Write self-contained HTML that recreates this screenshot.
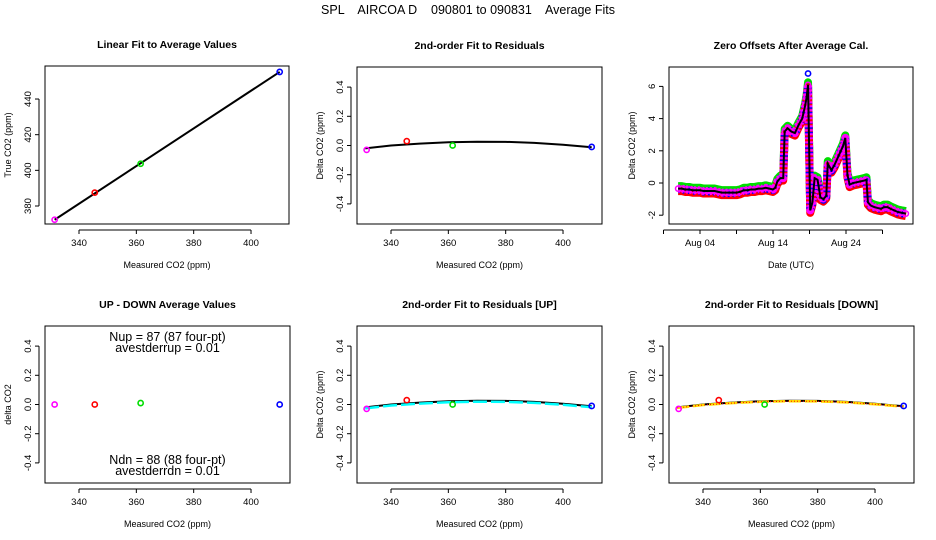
<!DOCTYPE html>
<html><head><meta charset="utf-8"><style>
body{margin:0;background:#fff}
svg{display:block;font-family:"Liberation Sans",sans-serif}
</style></head><body>
<svg id="c" width="936" height="540" viewBox="0 0 936 540" xmlns="http://www.w3.org/2000/svg">
<rect width="936" height="540" fill="#fff"/>
<text x="468" y="14" font-size="12.5" text-anchor="middle" xml:space="preserve">SPL    AIRCOA D    090801 to 090831    Average Fits</text>
</svg>
<script>
// ---- data ----
const calX = [331.5, 345.5, 361.5, 410];
const calTrue = [372.3, 387.5, 403.7, 455.2];
const calColors = ['#ff00ff', '#ff0000', '#00dd00', '#0000ff'];
const resid = [-0.03, 0.03, 0.0, -0.01];
const residUp = [-0.03, 0.03, 0.0, -0.01];
const residDn = [-0.03, 0.03, 0.0, -0.01];
const upDown = [0.0, 0.0, 0.01, 0.0];
const fitX = [331, 340, 350, 360, 370, 380, 390, 400, 410];
const fitY = [-0.02, 0.0, 0.013, 0.022, 0.026, 0.025, 0.018, 0.005, -0.012];
const linFitX = [331.5, 410];
const linFitY = [372.3, 455.2];
const zoDay = [1,1.5,2,2.5,3,3.5,4,4.5,5,5.5,6,6.5,7,7.5,8,8.5,9,9.5,10,10.5,11,11.5,12,12.5,13,13.5,14,14.3,14.6,15,15.4,15.6,16,16.5,17,17.5,18,18.2,18.4,18.6,18.8,19.1,19.4,19.7,20.1,20.5,20.9,21.3,21.5,22,22.4,22.7,23,23.3,23.6,23.9,24.2,24.5,25,25.5,26,26.5,26.8,27,27.4,27.9,28.3,28.8,29.2,29.7,30.1,30.6,31.1,31.6,32.2];
const zoVal = [-0.35,-0.35,-0.4,-0.4,-0.45,-0.45,-0.45,-0.5,-0.5,-0.5,-0.5,-0.55,-0.6,-0.6,-0.6,-0.6,-0.6,-0.55,-0.45,-0.45,-0.4,-0.4,-0.35,-0.35,-0.3,-0.35,-0.4,-0.3,0.1,0.3,0.3,3.2,3.4,3.2,3.1,3.6,4.0,4.4,4.8,5.3,6.1,-1.7,-1.2,0.3,0.2,-0.9,-1.0,-0.8,1.2,0.8,1.1,1.4,1.7,2.0,2.3,2.8,0.5,-0.1,0.0,0.05,0.1,0.15,0.2,-1.2,-1.4,-1.5,-1.55,-1.6,-1.5,-1.5,-1.6,-1.7,-1.8,-1.85,-1.9];
const resTicks = [-0.4, -0.2, 0.0, 0.2, 0.4];
const resTickLabels = ['-0.4', '-0.2', '0.0', '0.2', '0.4'];
const xTicks = [340, 360, 380, 400];
const linYTicks = [380, 400, 420, 440];
const zoYTicks = [-2, 0, 2, 4, 6];
const zoXTicks = [4, 14, 24];
const zoXTickLabels = ['Aug 04', 'Aug 14', 'Aug 24'];
const zoMinorTicks = [-1, 9, 19, 29];

const svg = document.getElementById('c');
const NS = 'http://www.w3.org/2000/svg';
function mk(tag, attrs, parent) {
  const e = document.createElementNS(NS, tag);
  for (const k in attrs) e.setAttribute(k, attrs[k]);
  (parent || svg).appendChild(e);
  return e;
}
function txt(x, y, s, size, opts, parent) {
  const t = mk('text', Object.assign({x: x, y: y, 'font-size': size, 'text-anchor': 'middle'}, opts || {}), parent);
  t.textContent = s;
  return t;
}

function panel(name, L, T, R, B, title, xlab, ylab) {
  const g = mk('g', {});
  
  
  const box = mk('rect', {x: L, y: T, width: R - L, height: B - T, fill: 'none', stroke: '#000', 'stroke-width': 1}, g);
  
  
  const t = txt((L + R) / 2, T - 18, title, 10.5, {'font-weight': 'bold'}, g);
  
  
  const xl = txt((L + R) / 2, B + 44, xlab, 9, {}, g);
  
  
  const cy = (T + B) / 2;
  const yl = txt(L - 34, cy, ylab, 9, {transform: 'rotate(-90 ' + (L - 34) + ' ' + cy + ')'}, g);
  
  
  return g;
}
function xAxis(g, L, R, B, ticks, labels, sx) {
  const a = mk('g', {}, g);
  
  
  mk('line', {x1: sx(ticks[0]), x2: sx(ticks[ticks.length - 1]), y1: B + 6, y2: B + 6, stroke: '#000'}, a);
  ticks.forEach((v, i) => {
    mk('line', {x1: sx(v), x2: sx(v), y1: B + 6, y2: B + 10, stroke: '#000'}, a);
    if (labels[i] !== '') {
      const t = txt(sx(v), B + 22, labels[i], 9.5, {}, a);
      
      
    }
  });
}
function yAxis(g, L, ticks, labels, sy, extra) {
  const a = mk('g', {}, g);
  
  
  const all = (extra || []).concat(ticks);
  const ys = all.map(sy);
  mk('line', {x1: L - 6, x2: L - 6, y1: Math.min(...ys), y2: Math.max(...ys), stroke: '#000'}, a);
  all.forEach(v => mk('line', {x1: L - 10, x2: L - 6, y1: sy(v), y2: sy(v), stroke: '#000'}, a));
  ticks.forEach((v, i) => {
    const x = L - 14, y = sy(v);
    const t = txt(x, y, labels[i], 9.5, {transform: 'rotate(-90 ' + x + ' ' + y + ')'}, a);
    
    
  });
}
function pts(g, xs, ys, sx, sy) {
  xs.forEach((v, i) => {
    const c = mk('circle', {cx: sx(v), cy: sy(ys[i]), r: 2.6, fill: 'none', stroke: calColors[i], 'stroke-width': 1.6}, g);
    
    
  });
}
function line(g, xs, ys, sx, sy, attrs, name) {
  const p = mk('polyline', Object.assign({points: xs.map((v, i) => sx(v) + ',' + sy(ys[i])).join(' '), fill: 'none'}, attrs), g);
  
  
  return p;
}

// ---- panel 1: linear fit ----
(function () {
  const L = 45, T = 66, R = 289, B = 224;
  const g = panel('linear-fit-panel', L, T, R, B, 'Linear Fit to Average Values', 'Measured CO2 (ppm)', 'True CO2 (ppm)');
  const sx = v => L + 34 + (v - 340) * 2.867;
  const sy = v => 206 - (v - 380) * 1.783;
  xAxis(g, L, R, B, xTicks, xTicks.map(String), sx);
  yAxis(g, L, linYTicks, linYTicks.map(String), sy);
  line(g, linFitX, linFitY, sx, sy, {stroke: '#000', 'stroke-width': 2}, 'linear-fit-line');
  pts(g, calX, calTrue, sx, sy);
})();

function residPanel(name, L, T, B, title, ys, fitStyle, ylab) {
  const R = L + 245;
  const g = panel(name, L, T, R, B, title, 'Measured CO2 (ppm)', ylab);
  const mid = (T + B) / 2;
  const sx = v => L + 34 + (v - 340) * 2.867;
  const sy = v => mid - v * 146;
  xAxis(g, L, R, B, xTicks, xTicks.map(String), sx);
  yAxis(g, L, resTicks, resTickLabels, sy);
  return {g, sx, sy, L, R, mid};
}

// ---- panel 2 ----
(function () {
  const p = residPanel('residual-fit-panel', 357, 67, 224, '2nd-order Fit to Residuals', resid, null, 'Delta CO2 (ppm)');
  line(p.g, fitX, fitY, p.sx, p.sy, {stroke: '#000', 'stroke-width': 2}, 'quadratic-fit-line');
  pts(p.g, calX, resid, p.sx, p.sy);
})();

// ---- panel 3: zero offsets ----
(function () {
  const L = 669, T = 67, R = 913, B = 224;
  const g = panel('zero-offsets-panel', L, T, R, B, 'Zero Offsets After Average Cal.', 'Date (UTC)', 'Delta CO2 (ppm)');
  const sx = d => 700 + (d - 4) * 7.3;
  const sy = v => 183 - v * 16.1;
  const xt = zoMinorTicks.concat(zoXTicks).sort((a, b) => a - b);
  xAxis(g, L, R, B, xt, xt.map(v => { const i = zoXTicks.indexOf(v); return i >= 0 ? zoXTickLabels[i] : ''; }), sx);
  yAxis(g, L, zoYTicks, zoYTicks.map(String), sy);
  const bands = [['#00dd00', -2.5, ''], ['#ff0000', 2.5, ''], ['#0000ff', 0.5, '2 3'], ['#ff00ff', 0, '2 2']];
  bands.forEach(b => {
    line(g, zoDay, zoVal, sx, v => sy(v) + b[1], {stroke: b[0], 'stroke-width': 8, 'stroke-linejoin': 'round', 'stroke-dasharray': b[2]}, 'offset-series');
  });
  zoDay.forEach((d, i) => {
    const c = mk('circle', {cx: sx(d), cy: sy(zoVal[i]), r: 2.6, fill: 'none', stroke: '#ff00ff', 'stroke-width': 1.5}, g);
    
    
  });
  const peak = mk('circle', {cx: sx(18.8), cy: sy(6.8), r: 2.6, fill: 'none', stroke: '#0000ff', 'stroke-width': 1.6}, g);
  
  
  line(g, zoDay, zoVal, sx, sy, {stroke: '#000', 'stroke-width': 2}, 'offset-mean-line');
})();

// ---- panel 4: up-down ----
(function () {
  const p = residPanel('up-down-panel', 45, 326, 483, 'UP - DOWN Average Values', upDown, null, 'delta CO2');
  pts(p.g, calX, upDown, p.sx, p.sy);
  const cx = (p.L + p.R) / 2;
  [['Nup = 87 (87 four-pt)', 341], ['avestderrup =  0.01', 352], ['Ndn = 88 (88 four-pt)', 464], ['avestderrdn =  0.01', 475]].forEach(a => {
    const t = txt(cx, a[1], a[0], 12.5, {}, p.g);
    
    
  });
})();

// ---- panel 5: UP ----
(function () {
  const p = residPanel('residual-up-panel', 357, 326, 483, '2nd-order Fit to Residuals [UP]', residUp, null, 'Delta CO2 (ppm)');
  line(p.g, fitX, fitY, p.sx, p.sy, {stroke: '#000', 'stroke-width': 2}, 'quadratic-fit-line');
  line(p.g, fitX, fitY, p.sx, v => p.sy(v) + 1, {stroke: '#00ffff', 'stroke-width': 2.5, 'stroke-dasharray': '14 4'}, 'up-fit-line');
  pts(p.g, calX, residUp, p.sx, p.sy);
})();

// ---- panel 6: DOWN ----
(function () {
  const p = residPanel('residual-down-panel', 669, 326, 483, '2nd-order Fit to Residuals [DOWN]', residDn, null, 'Delta CO2 (ppm)');
  line(p.g, fitX, fitY, p.sx, p.sy, {stroke: '#000', 'stroke-width': 2}, 'quadratic-fit-line');
  line(p.g, fitX, fitY, p.sx, v => p.sy(v) + 0.5, {stroke: '#ffdd00', 'stroke-width': 2.5, 'stroke-dasharray': '12 4'}, 'down-fit-line');
  line(p.g, fitX, fitY, p.sx, v => p.sy(v) + 0.5, {stroke: '#ff0000', 'stroke-width': 1, 'stroke-dasharray': '1 2'}, 'down-fit-dots');
  pts(p.g, calX, residDn, p.sx, p.sy);
})();
</script>
</body></html>
